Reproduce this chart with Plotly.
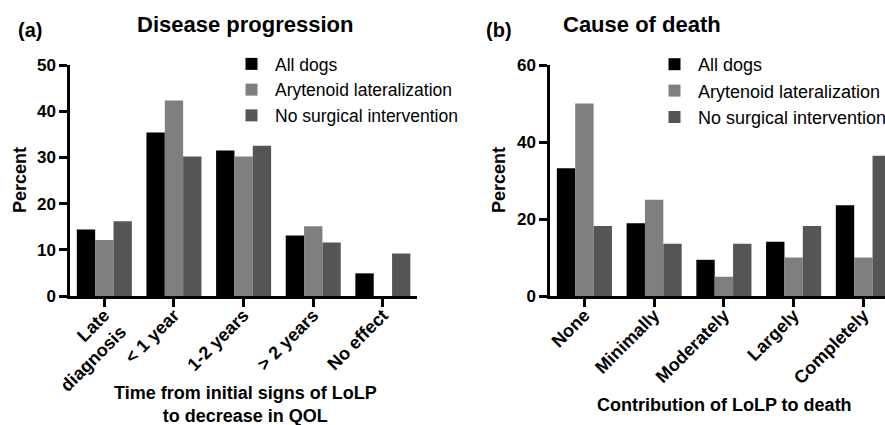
import plotly.graph_objects as go

# Panel (a): Disease progression
cats_a = ["Late<br>diagnosis", "< 1 year", "1-2 years", "> 2 years", "No effect"]
all_a = [14.4, 35.4, 31.5, 13.1, 4.9]
aryt_a = [12.1, 42.3, 30.2, 15.1, 0]
nosurg_a = [16.2, 30.2, 32.5, 11.6, 9.2]

# Panel (b): Cause of death
cats_b = ["None", "Minimally", "Moderately", "Largely", "Completely"]
all_b = [33.2, 18.9, 9.4, 14.1, 23.6]
aryt_b = [50.0, 25.0, 5.0, 10.0, 10.0]
nosurg_b = [18.2, 13.6, 13.6, 18.2, 36.4]

series_names = ["All dogs", "Arytenoid lateralization", "No surgical intervention"]
colors = ["#000000", "#7f7f7f", "#555555"]

FONT = "Liberation Sans, Arial, Helvetica, sans-serif"
W, H = 885, 425

fig = go.Figure()
for name, vals, col in zip(series_names, [all_a, aryt_a, nosurg_a], colors):
    fig.add_trace(go.Bar(x=cats_a, y=vals, name=name, marker=dict(color=col, line=dict(width=0)),
                         xaxis="x", yaxis="y", legend="legend"))
for name, vals, col in zip(series_names, [all_b, aryt_b, nosurg_b], colors):
    fig.add_trace(go.Bar(x=cats_b, y=vals, name=name, marker=dict(color=col, line=dict(width=0)),
                         xaxis="x2", yaxis="y2", legend="legend2"))

def px_x(p):
    return p / W

def px_y(p):
    return 1 - p / H

axis_common = dict(showline=True, linecolor="black", linewidth=2.5, ticks="outside",
                   ticklen=8, tickwidth=2.5, tickcolor="black", showgrid=False, zeroline=False,
                   automargin=False)
xfont = dict(family=FONT, size=18, color="black", weight="bold")
yfont = dict(family=FONT, size=17, color="black", weight="bold")
legfont = dict(family=FONT, size=17.5, color="black")

fig.update_layout(
    width=W, height=H,
    margin=dict(l=0, r=0, t=0, b=0, autoexpand=False),
    paper_bgcolor="white", plot_bgcolor="white",
    barmode="group", bargap=0.21, bargroupgap=0,
    font=dict(family=FONT, color="black"),
    xaxis=dict(domain=[px_x(70), px_x(417)], range=[-0.493, 4.49], anchor="y",
               tickangle=-45, tickfont=xfont, ticklabelstandoff=-9, **axis_common),
    yaxis=dict(domain=[px_y(296), px_y(65)], range=[0, 50], dtick=10, anchor="x",
               tickfont=yfont, **axis_common),
    xaxis2=dict(domain=[px_x(550), 1.0], range=[-0.493, 4.31], anchor="y2",
                tickangle=-45, tickfont=xfont, ticklabelstandoff=-9, **axis_common),
    yaxis2=dict(domain=[px_y(296), px_y(65)], range=[0, 60], dtick=20, anchor="x2",
                tickfont=yfont, **axis_common),
    legend=dict(x=px_x(228), y=px_y(46), xanchor="left", yanchor="top", itemwidth=37,
                bgcolor="rgba(0,0,0,0)", font=legfont),
    legend2=dict(x=px_x(651), y=px_y(46), xanchor="left", yanchor="top", itemwidth=37,
                 bgcolor="rgba(0,0,0,0)", font=dict(family=FONT, size=18, color="black")),
)

annots = [
    dict(text="<b>(a)</b>", x=px_x(30), y=px_y(30), size=20),
    dict(text="<b>Disease progression</b>", x=px_x(245), y=px_y(24), size=22),
    dict(text="<b>(b)</b>", x=px_x(499), y=px_y(30), size=20),
    dict(text="<b>Cause of death</b>", x=px_x(642), y=px_y(24), size=22),
    dict(text="<b>Time from initial signs of LoLP<br>to decrease in QOL</b>", x=px_x(245), y=px_y(404), size=18),
    dict(text="<b>Contribution of LoLP to death</b>", x=px_x(724), y=px_y(405), size=18),
]
for a in annots:
    fig.add_annotation(text=a["text"], x=a["x"], y=a["y"], xref="paper", yref="paper",
                       xanchor="center", yanchor="middle", showarrow=False,
                       font=dict(family=FONT, size=a["size"], color="black"))
for xp in [20, 499]:
    fig.add_annotation(text="<b>Percent</b>", x=px_x(xp), y=px_y(180), xref="paper", yref="paper",
                       xanchor="center", yanchor="middle", showarrow=False, textangle=-90,
                       font=dict(family=FONT, size=18, color="black"))

fig.write_html("out.html", config={"displayModeBar": False},
               post_script="document.body.style.margin='0';document.body.style.overflow='hidden';")
